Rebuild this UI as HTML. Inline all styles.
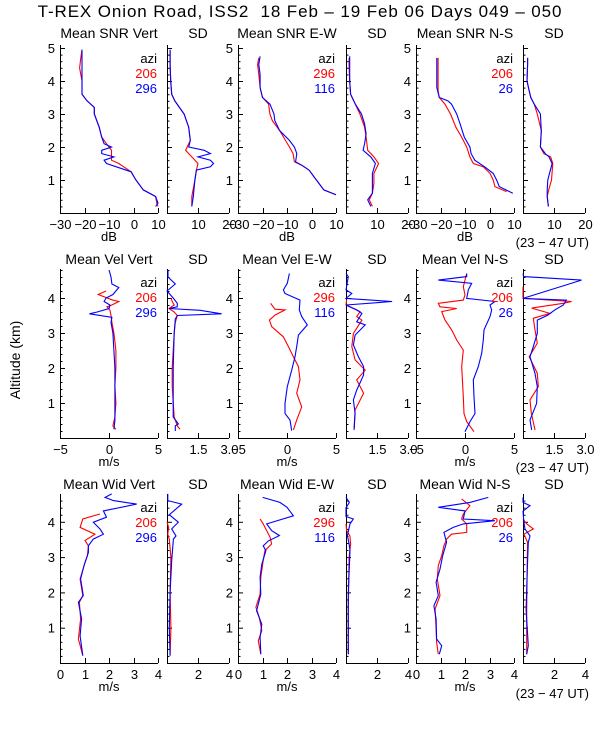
<!DOCTYPE html>
<html><head><meta charset="utf-8"><style>
html,body{margin:0;padding:0;background:#fff;}
svg{display:block;font-family:"Liberation Sans",sans-serif;}
</style></head><body>
<svg id="chart" width="600" height="750" viewBox="0 0 600 750" xmlns="http://www.w3.org/2000/svg">
<rect width="600" height="750" fill="#fff"/>
<text x="300" y="17" font-size="17" letter-spacing="0.9" text-anchor="middle" fill="#000">T-REX Onion Road, ISS2&#160; 18 Feb – 19 Feb 06 Days 049 – 050</text>
<text transform="translate(20,360) rotate(-90)" font-size="14" text-anchor="middle" fill="#000">Altitude (km)</text>
<g id="plots"></g>
</svg>
<script>
// ---- Row 1: SNR (dB) ----
const snrVertRedAlt=[0.2,0.3,0.5,0.7,1.0,1.25,1.4,1.5,1.6,1.7,1.8,1.9,2.0,2.1,2.3,2.6,3.0,3.2,3.4,3.6,4.0,4.4,4.7,4.95];
const snrVertRedVal=[10,9.5,9,4,1,-1,-4,-6,-9,-9,-9,-9,-10,-11,-13,-14,-16,-16,-19,-21,-21,-22,-21.5,-21];
const snrVertBlueAlt=[0.2,0.3,0.5,0.7,1.0,1.25,1.4,1.5,1.6,1.7,1.8,1.9,2.0,2.1,2.3,2.6,3.0,3.2,3.4,3.6,4.0,4.4,4.7,4.95];
const snrVertBlueVal=[9,10,9,4,1,-1,-7,-11,-12,-8,-13,-13,-9,-12,-13,-14,-16,-16,-19,-21,-21,-21,-21,-21];
const snrVertSdRedAlt=[0.2,0.5,1.0,1.3,1.5,1.7,1.9,2.0,2.2,2.6,3.0,3.4,3.6,4.0,4.5,4.95];
const snrVertSdRedVal=[8,8,9,9.5,10,8,6,6.5,7.5,7,5.5,2.5,1.5,1.2,1,1];
const snrVertSdBlueAlt=[0.2,0.5,1.0,1.3,1.4,1.5,1.6,1.7,1.8,1.9,2.0,2.2,2.6,3.0,3.4,3.6,4.0,4.5,4.95];
const snrVertSdBlueVal=[8,8.5,9,9.5,14,15,14,10,14,12,7,7.5,7,5.5,2.5,1.5,1.2,1,1];
const snrEwRedAlt=[0.55,0.7,0.9,1.1,1.3,1.45,1.55,1.8,2.0,2.5,2.8,3.0,3.3,3.5,3.8,4.2,4.5,4.7];
const snrEwRedVal=[10,5,3,1,-1,-4,-7,-7.5,-9,-13,-16,-17,-17.5,-20,-21,-21.5,-22,-21.5];
const snrEwBlueAlt=[0.55,0.7,0.9,1.1,1.3,1.45,1.55,1.8,2.0,2.2,2.5,2.8,3.0,3.3,3.5,3.8,4.2,4.5,4.75];
const snrEwBlueVal=[10,5,3,1,-1,-4,-6.5,-6,-7,-9,-13,-15,-15.3,-17,-20,-21,-21,-21.5,-21];
const snrEwSdRedAlt=[0.2,0.4,0.6,0.9,1.2,1.5,1.7,1.9,2.3,2.6,3.0,3.3,3.6,4.0,4.4,4.7];
const snrEwSdRedVal=[8.5,7.5,8.5,9,9,10.5,9,7,6.5,6,4.5,3,1.5,1.2,1,1];
const snrEwSdBlueAlt=[0.2,0.4,0.6,0.9,1.2,1.5,1.7,1.9,2.1,2.4,2.7,3.0,3.3,3.6,4.0,4.4,4.75];
const snrEwSdBlueVal=[8,7,8.5,8.5,8.5,9.5,8,5.5,6,6.5,6,5,3,1.5,1.2,1.2,1.2];
const snrNsRedAlt=[0.65,0.8,1.0,1.2,1.4,1.5,1.7,2.0,2.3,2.6,3.0,3.3,3.5,3.7,4.2,4.7];
const snrNsRedVal=[7,2.2,1.5,0.2,-2.5,-6.6,-8,-9.3,-11.4,-13.7,-15.9,-18.2,-20.5,-21,-21,-21];
const snrNsBlueAlt=[0.6,0.8,1.0,1.2,1.4,1.6,1.8,2.0,2.3,2.7,3.0,3.3,3.4,3.5,3.8,4.0,4.7];
const snrNsBlueVal=[9.5,4,2.9,1.5,-2,-6,-7.5,-8,-10.3,-12,-13.4,-15.5,-17,-20.5,-21.5,-21.5,-21.5];
const snrNsSdRedAlt=[0.2,0.5,0.7,1.0,1.5,1.7,1.8,2.0,2.5,3.0,3.3,3.5,3.7,4.0,4.5,4.7];
const snrNsSdRedVal=[8.2,7.8,8.3,9.2,9.6,8.9,6.7,5.6,5.9,4.6,3.6,2.5,2,1.3,1.5,1.5];
const snrNsSdBlueAlt=[0.2,0.5,0.7,1.0,1.5,1.7,1.8,2.0,2.5,3.0,3.3,3.5,3.7,4.0,4.5,4.7];
const snrNsSdBlueVal=[8.2,7.8,7.8,8,9.4,8.4,7.2,5.6,5.9,5.6,3.6,2.5,2,1.3,1.5,1.5];
// ---- Row 2: velocity (m/s) ----
const velVertRedAlt=[0.25,0.35,0.6,1.0,1.5,2.0,2.5,3.0,3.3,3.5,3.65,3.75,3.8,3.9,3.95,4.1,4.2];
const velVertRedVal=[0.7,0.4,0.6,0.7,0.6,0.7,0.7,0.5,0.3,0.2,0.1,-0.2,0.3,1.0,0.3,-1.1,-0.3];
const velVertBlueAlt=[0.25,0.5,1.0,1.5,2.0,2.5,3.0,3.3,3.45,3.55,3.6,3.7,3.8,3.9,4.0,4.1,4.3,4.4,4.6,4.8];
const velVertBlueVal=[0.5,0.6,0.6,0.6,0.6,0.5,0.4,0.2,0.3,-2.0,-1.2,0.0,0.1,-0.5,-0.3,0.4,1.0,0.3,0.2,0.0];
const velVertSdRedAlt=[0.25,0.35,0.6,1.0,1.5,2.0,2.5,3.0,3.3,3.5,3.6,3.7,3.8,3.9,4.0];
const velVertSdRedVal=[0.63,0.5,0.35,0.3,0.25,0.25,0.3,0.35,0.4,0.5,0.35,0.1,0.35,0.25,0.2];
const velVertSdBlueAlt=[0.2,0.35,0.4,0.6,1.0,2.0,3.0,3.4,3.5,3.55,3.65,3.7,3.75,3.85,4.0,4.2,4.4,4.6,4.8];
const velVertSdBlueVal=[0.4,0.4,0.55,0.3,0.3,0.3,0.35,0.4,0.5,2.64,1.6,0.1,0.5,0.5,0.3,0.0,0.4,0.05,0.05];
const velEwRedAlt=[0.23,0.51,0.89,1.28,1.66,2.04,2.32,2.61,2.89,3.18,3.37,3.51,3.66,3.68,3.85];
const velEwRedVal=[0.65,0.99,1.5,0.99,1.33,1.16,0.65,0.14,-0.37,-1.56,-1.8,-1.22,-0.2,-1.22,-1.67];
const velEwBlueAlt=[0.21,0.51,0.7,0.99,1.47,1.94,2.32,2.61,2.94,3.23,3.47,3.66,3.94,4.13,4.23,4.42,4.7];
const velEwBlueVal=[0.48,0.31,-0.2,-0.2,0.03,0.48,0.82,0.99,1.16,2.07,1.5,1.26,1.33,-0.2,-0.37,0.03,0.24];
const velEwSdRedAlt=[0.28,0.8,1.28,1.66,1.94,2.23,2.61,2.99,3.37,3.47,3.61,3.8,3.94];
const velEwSdRedVal=[0.39,0.44,0.85,0.52,0.93,0.44,0.28,0.36,0.77,0.52,0.68,0,0.03];
const velEwSdBlueAlt=[0.23,0.7,1.09,1.37,1.8,2.04,2.32,2.66,2.94,3.23,3.32,3.56,3.66,3.8,3.9,3.99,4.13,4.23,4.61,4.7];
const velEwSdBlueVal=[0.39,0.44,0.36,0.52,0.85,0.85,0.6,0.36,0.44,0.93,0.52,0.77,0.52,0,2.23,0,0.28,0,0.11,0];
const velNsRedAlt=[0.18,0.47,0.70,1.18,2.04,2.51,2.8,3.09,3.37,3.61,3.7,3.75,3.85,3.94,4.09,4.32,4.7];
const velNsRedVal=[0.92,0.17,-0.1,-0.17,-0.34,-0.17,-0.85,-1.36,-2.04,-2.38,-0.85,-2.55,-2.72,-0.17,0,-0.17,0.17];
const velNsBlueAlt=[0.18,0.47,0.70,1.18,1.66,2.04,2.42,2.8,3.09,3.47,3.66,3.8,3.9,3.99,4.23,4.42,4.51,4.61,4.7];
const velNsBlueVal=[0,0.51,1.02,0.92,0.85,1.36,1.7,1.87,1.94,2.55,2.72,2.55,3.06,0.17,0.34,0.68,-2.72,0.17,0.17];
const velNsSdRedAlt=[0.23,0.71,1.09,1.47,1.85,2.32,2.71,3.09,3.42,3.56,3.71,3.85,3.9,3.99,4.32];
const velNsSdRedVal=[0.58,0.4,0.34,0.74,0.69,0.3,0.69,0.58,0.5,1.3,0.42,1.95,2.35,0,0];
const velNsSdBlueAlt=[0.23,0.51,0.99,1.47,1.85,2.32,2.61,2.99,3.37,3.51,3.66,3.8,3.94,3.99,4.51,4.61,4.7];
const velNsSdBlueVal=[0.42,0.34,0.66,0.69,0.58,0.34,0.5,0.69,0.69,1.2,1.54,1.95,2.1,0,2.83,0.03,0];
// ---- Row 3: spectral width (m/s) ----
const widVertRedAlt=[0.21,0.68,1.25,1.72,1.91,2.38,2.85,3.04,3.32,3.47,3.65,3.84,4.08,4.22];
const widVertRedVal=[0.93,0.75,0.84,0.79,0.93,0.82,1.02,1.12,1.16,1.02,1.43,0.82,0.93,1.63];
const widVertBlueAlt=[0.21,0.77,1.25,1.72,1.91,2.38,2.76,3.13,3.32,3.51,3.65,3.8,3.99,4.13,4.31,4.5,4.6,4.69,4.79];
const widVertBlueVal=[0.93,0.82,0.88,0.75,0.95,0.84,0.98,1.16,1.16,1.36,1.77,1.63,1.36,1.9,1.77,3.13,2.18,1.84,2.11];
const widVertSdRedAlt=[0.21,1.0,2.0,3.0,3.5,3.65,3.84,4.0];
const widVertSdRedVal=[0.2,0.25,0.2,0.25,0.15,0.05,0.1,0];
const widVertSdBlueAlt=[0.21,1.0,2.0,2.9,3.51,3.6,3.8,3.99,4.2,4.5,4.6,4.79];
const widVertSdBlueVal=[0.2,0.15,0.2,0.3,0.41,0.58,0.3,0.73,0.15,0.95,0.05,0.05];
const widEwRedAlt=[0.25,0.63,0.92,1.29,1.58,1.95,2.43,2.9,3.18,3.37,3.56,3.75,3.94,4.08];
const widEwRedVal=[0.93,0.83,0.97,0.87,0.73,0.9,0.93,1.03,1.1,1.37,1.31,1.17,1.03,0.9];
const widEwBlueAlt=[0.25,0.73,1.1,1.48,1.95,2.43,2.8,3.18,3.32,3.46,3.61,3.75,3.94,4.17,4.41,4.55,4.69];
const widEwBlueVal=[0.93,0.9,0.97,0.76,0.93,0.9,0.97,1.14,1.03,1.24,1.69,1.37,1.17,2.26,2.0,1.71,1.01];
const widEwSdRedAlt=[0.25,1.5,3.0,3.37,3.6,3.75,3.94];
const widEwSdRedVal=[0.15,0.15,0.2,0.3,0.25,0.04,0];
const widEwSdBlueAlt=[0.25,2.0,3.18,3.37,3.61,3.94,4.08,4.15,4.4,4.55,4.69];
const widEwSdBlueVal=[0.15,0.15,0.26,0.2,0.09,0.26,0.47,0,0,0.22,0];
const widNsRedAlt=[0.25,0.59,0.96,1.53,1.91,2.38,2.76,3.04,3.32,3.51,3.65,3.7,3.94,4.08,4.22,4.46,4.65];
const widNsRedVal=[0.91,0.84,0.82,0.78,0.98,0.87,0.91,1.05,1.14,1.25,1.45,2.07,2.07,1.86,1.93,2.2,1.86];
const widNsBlueAlt=[0.25,0.49,0.68,1.25,1.62,1.91,2.29,2.66,3.04,3.42,3.7,3.84,3.94,4.03,4.08,4.31,4.41,4.55,4.69];
const widNsBlueVal=[0.95,1.05,0.84,0.82,0.73,0.91,0.82,0.98,1.09,1.25,1.14,1.52,1.93,3.22,1.93,2.0,0.91,2.2,2.95];
const widNsSdRedAlt=[0.25,1.5,3.0,3.42,3.65,3.8,3.94,4.08];
const widNsSdRedVal=[0.24,0.24,0.28,0.3,0.06,0.67,0.24,0];
const widNsSdBlueAlt=[0.25,0.49,1.5,2.66,3.42,3.6,3.8,3.99,4.3,4.46,4.55,4.69];
const widNsSdBlueVal=[0.24,0.34,0.2,0.28,0.34,0.45,0.13,0.06,0.0,0.45,0.0,0];
// ---- tick labels / legend text ----
const snrTicks=[-30,-20,-10,0,10];
const snrSdTicks=[0,10,20];
const velTicks=[-5,0,5];
const velSdTicks=[0,1.5,3.0];
const widTicks=[0,1,2,3,4];
const widSdTicks=[0,2,4];
const panelTitles=[["Mean SNR Vert","Mean SNR E-W","Mean SNR N-S"],["Mean Vel Vert","Mean Vel E-W","Mean Vel N-S"],["Mean Wid Vert","Mean Wid E-W","Mean Wid N-S"]];
const azRed=["206","296","206"];
const azBlue=["296","116","26"];

const NS="http://www.w3.org/2000/svg";
const root=document.getElementById('plots');
function mk(tag,attrs,parent){const e=document.createElementNS(NS,tag);for(const k in attrs)e.setAttribute(k,attrs[k]);(parent||root).appendChild(e);return e;}

const rows=[
 {y0:213,pxkm:33,top:45,altMax:5,title:38,tickY:229,unitY:241,utY:247,unit:"dB",
  main:{min:-30,max:10,ticks:snrTicks,fmt:v=>v<0?"\u2212"+(-v):String(v)},sd:{min:0,max:20,ticks:snrSdTicks,fmt:v=>String(v)},
  series:[[snrVertRedAlt,snrVertRedVal,snrVertBlueAlt,snrVertBlueVal,snrVertSdRedAlt,snrVertSdRedVal,snrVertSdBlueAlt,snrVertSdBlueVal],
          [snrEwRedAlt,snrEwRedVal,snrEwBlueAlt,snrEwBlueVal,snrEwSdRedAlt,snrEwSdRedVal,snrEwSdBlueAlt,snrEwSdBlueVal],
          [snrNsRedAlt,snrNsRedVal,snrNsBlueAlt,snrNsBlueVal,snrNsSdRedAlt,snrNsSdRedVal,snrNsSdBlueAlt,snrNsSdBlueVal]]},
 {y0:438,pxkm:35,top:269,altMax:4,title:264,tickY:454,unitY:466,utY:472,unit:"m/s",
  main:{min:-5,max:5,ticks:velTicks,fmt:v=>v<0?"\u2212"+(-v):String(v)},sd:{min:0,max:3,ticks:velSdTicks,fmt:v=>v.toFixed(1)},
  series:[[velVertRedAlt,velVertRedVal,velVertBlueAlt,velVertBlueVal,velVertSdRedAlt,velVertSdRedVal,velVertSdBlueAlt,velVertSdBlueVal],
          [velEwRedAlt,velEwRedVal,velEwBlueAlt,velEwBlueVal,velEwSdRedAlt,velEwSdRedVal,velEwSdBlueAlt,velEwSdBlueVal],
          [velNsRedAlt,velNsRedVal,velNsBlueAlt,velNsBlueVal,velNsSdRedAlt,velNsSdRedVal,velNsSdBlueAlt,velNsSdBlueVal]]},
 {y0:663,pxkm:35.3,top:494,altMax:4,title:489,tickY:679,unitY:691,utY:698,unit:"m/s",
  main:{min:0,max:4,ticks:widTicks,fmt:v=>String(v)},sd:{min:0,max:4,ticks:widSdTicks,fmt:v=>String(v)},
  series:[[widVertRedAlt,widVertRedVal,widVertBlueAlt,widVertBlueVal,widVertSdRedAlt,widVertSdRedVal,widVertSdBlueAlt,widVertSdBlueVal],
          [widEwRedAlt,widEwRedVal,widEwBlueAlt,widEwBlueVal,widEwSdRedAlt,widEwSdRedVal,widEwSdBlueAlt,widEwSdBlueVal],
          [widNsRedAlt,widNsRedVal,widNsBlueAlt,widNsBlueVal,widNsSdRedAlt,widNsSdRedVal,widNsSdBlueAlt,widNsSdBlueVal]]}
];
const mainX=[60,238,416], sdX=[167,346,523], mainW=98, sdW=62;

function drawPanel(r,x0,w,scale,alts,vals,isMain,ri,ci){
  const g=mk('g',{});
  
  
  const xs=v=>x0+(v-scale.min)/(scale.max-scale.min)*w;
  const ys=a=>r.y0-a*r.pxkm;
  const ax=mk('path',{d:`M${x0+0.5},${r.top}V${r.y0+0.5}H${x0+w}`,stroke:'#000','stroke-width':1,fill:'none'},g);
  
  
  const topAlt=(r.y0-r.top)/r.pxkm;
  for(let a=0.2;a<topAlt;a+=0.2){
    const maj=Math.abs(a-Math.round(a))<0.01;
    mk('line',{x1:x0,x2:x0+(maj?5:2.5),y1:ys(a)+0.5,y2:ys(a)+0.5,stroke:'#000','stroke-width':1},g);
  }
  if(isMain){
    for(let k=1;k<=r.altMax;k++){
      const t=mk('text',{x:x0-5,y:ys(k)+5,'font-size':13,'text-anchor':'end'},g);
      t.textContent=k;
      
      
    }
  }
  scale.ticks.forEach(v=>{
    const x=Math.round(xs(v))+0.5;
    mk('line',{x1:x,x2:x,y1:r.y0,y2:r.y0-5,stroke:'#000','stroke-width':1},g);
    if(!isMain && v===0) return;
    const t=mk('text',{x:x,y:r.tickY,'font-size':13,'text-anchor':'middle'},g);
    t.textContent=scale.fmt(v);
    
    
  });
  function line(al,vl,color,name){
    const d=al.map((a,i)=>(i?'L':'M')+xs(vl[i]).toFixed(1)+','+ys(a).toFixed(1)).join('');
    const p=mk('path',{d:d,stroke:color,'stroke-width':1.1,fill:'none'},g);
    
    
  }
  line(alts[0],vals[0],'#ff0000','series-red');
  line(alts[1],vals[1],'#0000ff','series-blue');
  const tt=mk('text',{x:x0+w/2,y:r.title,'font-size':14,'text-anchor':'middle'},g);
  tt.textContent=isMain?panelTitles[ri][ci]:'SD';
  
  
  if(isMain){
    const u=mk('text',{x:x0+w/2,y:r.unitY,'font-size':13,'text-anchor':'middle'},g);
    u.textContent=r.unit;
    
    
    const lx=x0+w-1, ly=r.top+18;
    const l0=mk('text',{x:lx,y:ly,'font-size':13,'text-anchor':'end',fill:'#000'},g);
    l0.textContent='azi';
    
    
    const l1=mk('text',{x:lx,y:ly+15,'font-size':13,'text-anchor':'end',fill:'#ff0000'},g);
    l1.textContent=azRed[ci];
    
    
    const l2=mk('text',{x:lx,y:ly+30,'font-size':13,'text-anchor':'end',fill:'#0000ff'},g);
    l2.textContent=azBlue[ci];
    
    
  }
}
rows.forEach((r,ri)=>{
  r.series.forEach((s,ci)=>{
    drawPanel(r,mainX[ci],mainW,r.main,[s[0],s[2]],[s[1],s[3]],true,ri,ci);
    drawPanel(r,sdX[ci],sdW,r.sd,[s[4],s[6]],[s[5],s[7]],false,ri,ci);
  });
  const ut=mk('text',{x:589,y:r.utY,'font-size':13,'text-anchor':'end'});
  ut.textContent='(23 \u2212 47 UT)';
  
  
});
</script>
</body></html>
